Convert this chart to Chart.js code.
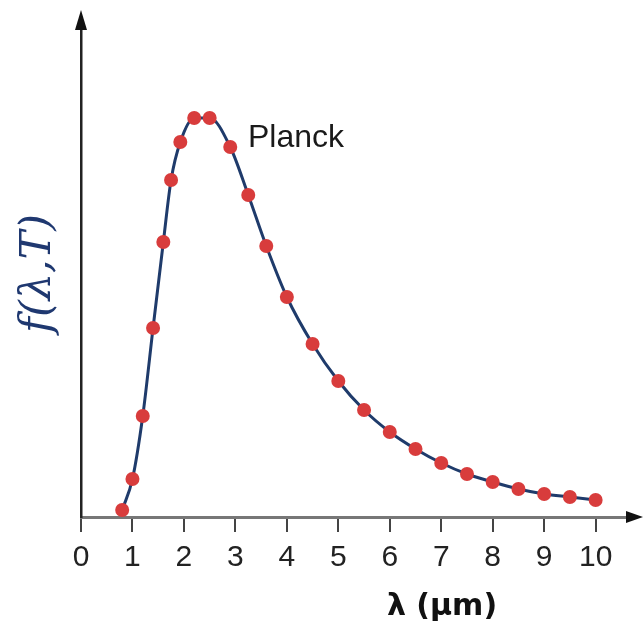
<!DOCTYPE html>
<html>
<head>
<meta charset="utf-8">
<script src="https://cdn.jsdelivr.net/npm/chart.js@4/dist/chart.umd.min.js"></script>
<style>
  html, body { margin: 0; padding: 0; background: #fff; }
  #wrap { width: 644px; height: 632px; }
</style>
</head>
<body>
<div id="wrap"><canvas id="planck" width="644" height="632"></canvas></div>
<script>
// wavelength (um) and relative spectral intensity
const wavelengths = [0.8, 1.0, 1.2, 1.4, 1.6, 1.75, 1.93, 2.2, 2.5, 2.9, 3.25, 3.6, 4.0, 4.5, 5.0, 5.5, 6.0, 6.5, 7.0, 7.5, 8.0, 8.5, 9.0, 9.5, 10.0];
const intensity = [7, 38, 101, 189, 275, 337, 375, 399, 399, 370, 322, 271, 220, 173, 136, 107, 85, 68, 54, 43, 35, 28, 23, 20, 17];
const xTicks = [0, 1, 2, 3, 4, 5, 6, 7, 8, 9, 10];

const curveLabel = 'Planck';
const xTitle = 'λ (μm)';
const yTitle = 'f(λ,T)';

// arrows on the axes plus the two loose labels
const axisDecor = {
    id: 'axisDecor',
    afterDraw(chart) {
        const ctx = chart.ctx;
        const a = chart.chartArea;
        const yAxisX = chart.scales.x.getPixelForValue(0);
        ctx.save();
        ctx.fillStyle = '#111';
        // up arrow
        ctx.beginPath();
        ctx.moveTo(yAxisX, a.top - 20);
        ctx.lineTo(yAxisX - 6, a.top);
        ctx.lineTo(yAxisX + 6, a.top);
        ctx.closePath();
        ctx.fill();
        // right arrow
        ctx.beginPath();
        ctx.moveTo(a.right + 17, a.bottom);
        ctx.lineTo(a.right, a.bottom - 6);
        ctx.lineTo(a.right, a.bottom + 6);
        ctx.closePath();
        ctx.fill();

        ctx.fillStyle = '#1a1a1a';
        ctx.font = '32px "Liberation Sans", Arial, sans-serif';
        ctx.textAlign = 'left';
        ctx.textBaseline = 'alphabetic';
        ctx.fillText(curveLabel, 248, 147);

        ctx.fillStyle = '#111';
        ctx.font = 'bold 30px "DejaVu Sans", sans-serif';
        ctx.textAlign = 'center';
        ctx.textBaseline = 'middle';
        ctx.fillText(xTitle, 442, 607);
        ctx.restore();
    }
};

const ctx = document.getElementById('planck').getContext('2d');
const chart = new Chart(ctx, {
    type: 'line',
    data: {
        datasets: [{
            label: curveLabel,
            data: wavelengths.map((w, i) => ({ x: w, y: intensity[i] })),
            borderColor: '#1f3b6b',
            borderWidth: 3,
            cubicInterpolationMode: 'monotone',
            pointRadius: 7,
            pointBackgroundColor: '#d83c3c',
            pointBorderWidth: 0,
            pointHoverRadius: 7
        }]
    },
    options: {
        responsive: false,
        animation: false,
        layout: { padding: { top: 30, right: 18, bottom: 0, left: 0 } },
        plugins: {
            legend: { display: false },
            tooltip: { enabled: false }
        },
        scales: {
            x: {
                type: 'linear',
                min: 0,
                max: 10.59,
                afterBuildTicks: (scale) => { scale.ticks = xTicks.map(v => ({ value: v })); },
                afterFit: (scale) => { scale.height = 115; },
                grid: {
                    display: true,
                    drawOnChartArea: false,
                    drawTicks: true,
                    tickLength: 15,
                    color: '#444',
                    lineWidth: 2
                },
                border: { display: true, color: '#777', width: 3 },
                ticks: {
                    color: '#222',
                    padding: 8,
                    autoSkip: false,
                    maxRotation: 0,
                    font: { family: '"Liberation Sans", Arial, sans-serif', size: 30 }
                }
            },
            y: {
                min: 0,
                max: 487,
                afterFit: (scale) => { scale.width = 81; },
                grid: { display: false },
                border: { display: true, color: '#222', width: 2.5 },
                ticks: { display: false },
                title: {
                    display: true,
                    text: yTitle,
                    color: '#1f3870',
                    padding: { top: 13, bottom: 0 },
                    font: { family: '"DejaVu Serif", serif', style: 'italic', size: 43 }
                }
            }
        }
    },
    plugins: [axisDecor]
});
</script>
</body>
</html>
